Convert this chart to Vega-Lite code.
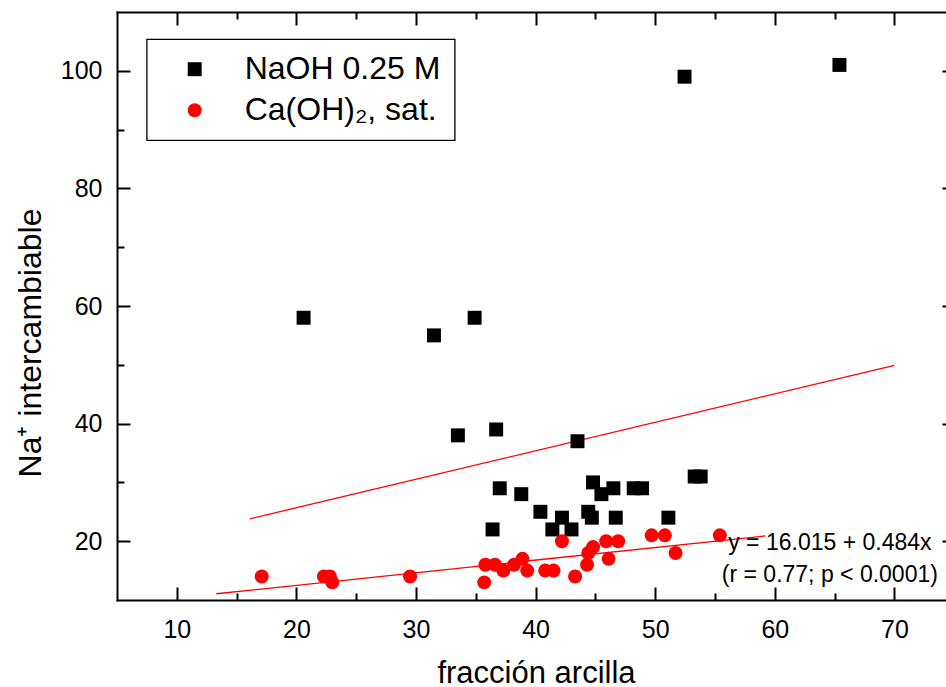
{
  "$schema": "https://vega.github.io/schema/vega-lite/v6.json",
  "width": 829,
  "height": 588,
  "autosize": {"type": "none"},
  "padding": {"left": 117, "top": 12, "right": 0, "bottom": 87},
  "background": "white",
  "config": {
    "view": {"stroke": null},
    "font": "Liberation Sans",
    "axis": {
      "domainColor": "black",
      "domainWidth": 2,
      "domainCap": "square",
      "tickColor": "black",
      "tickWidth": 2,
      "grid": false,
      "labelColor": "black",
      "titleColor": "black",
      "labelFont": "Liberation Sans",
      "titleFont": "Liberation Sans",
      "labelFontSize": 25,
      "titleFontSize": 31,
      "titleFontWeight": "normal",
      "labelFlush": false,
      "labelOverlap": false,
      "labelBound": false
    },
    "legend": {"strokeWidth": 1.3, "cornerRadius": 0}
  },
  "datasets": {
    "muestras": [
      {"arcilla": 20.6, "na": 58, "serie": "NaOH 0.25 M"},
      {"arcilla": 31.5, "na": 55, "serie": "NaOH 0.25 M"},
      {"arcilla": 34.9, "na": 58, "serie": "NaOH 0.25 M"},
      {"arcilla": 33.5, "na": 38, "serie": "NaOH 0.25 M"},
      {"arcilla": 36.7, "na": 39, "serie": "NaOH 0.25 M"},
      {"arcilla": 52.45, "na": 99, "serie": "NaOH 0.25 M"},
      {"arcilla": 65.4, "na": 101, "serie": "NaOH 0.25 M"},
      {"arcilla": 43.5, "na": 37, "serie": "NaOH 0.25 M"},
      {"arcilla": 37.0, "na": 29, "serie": "NaOH 0.25 M"},
      {"arcilla": 38.8, "na": 28, "serie": "NaOH 0.25 M"},
      {"arcilla": 44.8, "na": 30, "serie": "NaOH 0.25 M"},
      {"arcilla": 45.5, "na": 28, "serie": "NaOH 0.25 M"},
      {"arcilla": 46.5, "na": 29, "serie": "NaOH 0.25 M"},
      {"arcilla": 48.2, "na": 29, "serie": "NaOH 0.25 M"},
      {"arcilla": 48.9, "na": 29, "serie": "NaOH 0.25 M"},
      {"arcilla": 53.3, "na": 31, "serie": "NaOH 0.25 M"},
      {"arcilla": 53.8, "na": 31, "serie": "NaOH 0.25 M"},
      {"arcilla": 40.4, "na": 25, "serie": "NaOH 0.25 M"},
      {"arcilla": 42.2, "na": 24, "serie": "NaOH 0.25 M"},
      {"arcilla": 44.4, "na": 25, "serie": "NaOH 0.25 M"},
      {"arcilla": 44.7, "na": 24, "serie": "NaOH 0.25 M"},
      {"arcilla": 46.7, "na": 24, "serie": "NaOH 0.25 M"},
      {"arcilla": 51.1, "na": 24, "serie": "NaOH 0.25 M"},
      {"arcilla": 36.4, "na": 22, "serie": "NaOH 0.25 M"},
      {"arcilla": 41.4, "na": 22, "serie": "NaOH 0.25 M"},
      {"arcilla": 43.0, "na": 22, "serie": "NaOH 0.25 M"},
      {"arcilla": 17.1, "na": 14, "serie": "Ca(OH)₂, sat."},
      {"arcilla": 22.3, "na": 14, "serie": "Ca(OH)₂, sat."},
      {"arcilla": 22.8, "na": 14, "serie": "Ca(OH)₂, sat."},
      {"arcilla": 23.0, "na": 13, "serie": "Ca(OH)₂, sat."},
      {"arcilla": 29.5, "na": 14, "serie": "Ca(OH)₂, sat."},
      {"arcilla": 35.7, "na": 13, "serie": "Ca(OH)₂, sat."},
      {"arcilla": 35.8, "na": 16, "serie": "Ca(OH)₂, sat."},
      {"arcilla": 36.6, "na": 16, "serie": "Ca(OH)₂, sat."},
      {"arcilla": 37.3, "na": 15, "serie": "Ca(OH)₂, sat."},
      {"arcilla": 38.2, "na": 16, "serie": "Ca(OH)₂, sat."},
      {"arcilla": 38.9, "na": 17, "serie": "Ca(OH)₂, sat."},
      {"arcilla": 39.3, "na": 15, "serie": "Ca(OH)₂, sat."},
      {"arcilla": 40.8, "na": 15, "serie": "Ca(OH)₂, sat."},
      {"arcilla": 41.5, "na": 15, "serie": "Ca(OH)₂, sat."},
      {"arcilla": 42.2, "na": 20, "serie": "Ca(OH)₂, sat."},
      {"arcilla": 43.3, "na": 14, "serie": "Ca(OH)₂, sat."},
      {"arcilla": 44.3, "na": 16, "serie": "Ca(OH)₂, sat."},
      {"arcilla": 44.4, "na": 18, "serie": "Ca(OH)₂, sat."},
      {"arcilla": 44.8, "na": 19, "serie": "Ca(OH)₂, sat."},
      {"arcilla": 45.9, "na": 20, "serie": "Ca(OH)₂, sat."},
      {"arcilla": 46.1, "na": 17, "serie": "Ca(OH)₂, sat."},
      {"arcilla": 46.9, "na": 20, "serie": "Ca(OH)₂, sat."},
      {"arcilla": 49.7, "na": 21, "serie": "Ca(OH)₂, sat."},
      {"arcilla": 50.8, "na": 21, "serie": "Ca(OH)₂, sat."},
      {"arcilla": 51.7, "na": 18, "serie": "Ca(OH)₂, sat."},
      {"arcilla": 55.4, "na": 21, "serie": "Ca(OH)₂, sat."}
    ],
    "rectas": [
      {"recta": "NaOH", "arcilla": 16.1, "na": 23.807},
      {"recta": "NaOH", "arcilla": 70.0, "na": 49.895},
      {"recta": "CaOH2", "arcilla": 13.3, "na": 11.06},
      {"recta": "CaOH2", "arcilla": 59.2, "na": 20.9}
    ],
    "anotacion": [
      {"arcilla": 64.6, "na": 19.66, "texto": "y = 16.015 + 0.484x"},
      {"arcilla": 64.6, "na": 14.2, "texto": "(r = 0.77; p < 0.0001)"}
    ]
  },
  "layer": [
    {
      "data": {"name": "rectas"},
      "mark": {"type": "line", "color": "#ff0000", "strokeWidth": 1.3},
      "encoding": {
        "detail": {"field": "recta", "type": "nominal"},
        "x": {
          "field": "arcilla", "type": "quantitative",
          "scale": {"domain": [5, 74.31], "nice": false, "zero": false},
          "axis": {
            "orient": "top", "title": null, "labels": false, "domain": true,
            "values": [10, 15, 20, 25, 30, 35, 40, 45, 50, 55, 60, 65, 70],
            "tickSize": {"condition": {"test": "datum.value % 10 === 0", "value": -13}, "value": -7}
          }
        },
        "y": {
          "field": "na", "type": "quantitative",
          "scale": {"domain": [10, 110], "nice": false, "zero": false},
          "axis": {
            "orient": "right", "title": null, "labels": false, "domain": false, "offset": 9,
            "values": [20, 30, 40, 50, 60, 70, 80, 90, 100],
            "tickSize": {"condition": {"test": "datum.value % 20 === 0", "value": -13}, "value": -7}
          }
        }
      }
    },
    {
      "data": {"name": "muestras"},
      "mark": {"type": "point", "filled": true, "size": 195, "opacity": 1, "strokeWidth": 0},
      "encoding": {
        "x": {
          "field": "arcilla", "type": "quantitative",
          "scale": {"domain": [5, 74.31], "nice": false, "zero": false},
          "axis": {
            "orient": "bottom", "title": "fracción arcilla",
            "values": [10, 15, 20, 25, 30, 35, 40, 45, 50, 55, 60, 65, 70],
            "tickSize": {"condition": {"test": "datum.value % 10 === 0", "value": -13}, "value": -7},
            "labelExpr": "datum.value % 10 === 0 ? datum.label : ''",
            "labelPadding": 30,
            "labelBaseline": "top",
            "titleX": 419,
            "titleY": 82,
            "titleAlign": "center",
            "titleBaseline": "alphabetic",
            "titleFontSize": 31
          }
        },
        "y": {
          "field": "na", "type": "quantitative",
          "scale": {"domain": [10, 110], "nice": false, "zero": false},
          "axis": {
            "orient": "left", "title": "Na⁺ intercambiable",
            "values": [20, 30, 40, 50, 60, 70, 80, 90, 100],
            "tickSize": {"condition": {"test": "datum.value % 20 === 0", "value": -13}, "value": -7},
            "labelExpr": "datum.value % 20 === 0 ? datum.label : ''",
            "labelPadding": 28,
            "titleX": -77,
            "titleY": 330.5,
            "titleAngle": 270,
            "titleAlign": "center",
            "titleBaseline": "alphabetic",
            "titleFontSize": 32
          }
        },
        "color": {
          "field": "serie", "type": "nominal",
          "scale": {"domain": ["NaOH 0.25 M", "Ca(OH)₂, sat."], "range": ["#000000", "#ff0000"]},
          "legend": {
            "orient": "none", "legendX": 29.7, "legendY": 27.2, "title": null,
            "strokeColor": "black", "padding": 14, "symbolOffset": 18, "labelOffset": 34,
            "rowPadding": 9, "labelFontSize": 32, "labelFont": "Liberation Sans",
            "labelColor": "black", "symbolSize": 195, "symbolStrokeWidth": 0, "labelLimit": 400
          }
        },
        "shape": {
          "field": "serie", "type": "nominal",
          "scale": {"domain": ["NaOH 0.25 M", "Ca(OH)₂, sat."], "range": ["square", "circle"]},
          "legend": {
            "orient": "none", "legendX": 29.7, "legendY": 27.2, "title": null,
            "strokeColor": "black", "padding": 14, "symbolOffset": 18, "labelOffset": 34,
            "rowPadding": 9, "labelFontSize": 32, "labelFont": "Liberation Sans",
            "labelColor": "black", "symbolSize": 195, "symbolStrokeWidth": 0, "labelLimit": 400
          }
        }
      }
    },
    {
      "data": {"name": "anotacion"},
      "mark": {"type": "text", "fontSize": 23, "font": "Liberation Sans", "color": "black", "align": "center", "baseline": "middle"},
      "encoding": {
        "x": {"field": "arcilla", "type": "quantitative", "scale": {"domain": [5, 74.31], "nice": false, "zero": false}, "axis": null},
        "y": {"field": "na", "type": "quantitative", "scale": {"domain": [10, 110], "nice": false, "zero": false}, "axis": null},
        "text": {"field": "texto", "type": "nominal"}
      }
    }
  ],
  "resolve": {"axis": {"x": "independent", "y": "independent"}}
}
